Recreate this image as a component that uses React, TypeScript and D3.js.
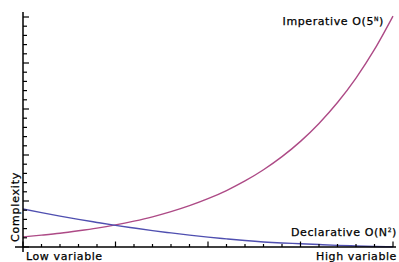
import React, { useEffect, useRef } from 'react';
import * as d3 from 'd3';

// input size steps (0 = low variable, 20 = high variable)
const steps = d3.range(0, 21);
const imperative = [1.1, 1.29, 1.5, 1.76, 2.05, 2.4, 2.81, 3.28, 3.84, 4.49, 5.25, 6.14, 7.18, 8.4, 9.82, 11.48, 13.43, 15.7, 18.36, 21.47, 25.1];
const declarative = [4.13, 3.74, 3.36, 3.0, 2.67, 2.35, 2.06, 1.78, 1.53, 1.29, 1.07, 0.88, 0.7, 0.55, 0.44, 0.36, 0.27, 0.18, 0.11, 0.05, 0.02];
const xTicks = d3.range(0, 21);
const yTicks = d3.range(0, 26);

const App = () => {
    const ref = useRef<SVGSVGElement>(null);

    useEffect(() => {
        const svg = d3.select(ref.current);
        svg.selectAll('*').remove();

        const x = d3.scaleLinear().domain([0, 20]).range([23, 393]);
        const y = d3.scaleLinear().domain([0, 25]).range([247, 17]);
        const font = '"DejaVu Sans", Verdana, sans-serif';

        const plot = svg.append('g');
        plot.append('clipPath').attr('id', 'plot-clip')
            .append('rect').attr('x', 23).attr('y', 10).attr('width', 376).attr('height', 238);

        const line = d3.line<number>()
            .x((d, i) => x(steps[i]))
            .y((d) => y(d))
            .curve(d3.curveMonotoneX);

        // curves
        plot.append('path').datum(imperative)
            .attr('d', line)
            .attr('fill', 'none')
            .attr('stroke', '#ad4a86')
            .attr('stroke-width', 1.4)
            .attr('clip-path', 'url(#plot-clip)');
        plot.append('path').datum(declarative)
            .attr('d', line)
            .attr('fill', 'none')
            .attr('stroke', '#4f4fb0')
            .attr('stroke-width', 1.4)
            .attr('clip-path', 'url(#plot-clip)');

        // axes
        const axes = svg.append('g').attr('stroke', '#000');
        axes.append('line').attr('x1', 23).attr('x2', 23).attr('y1', 12).attr('y2', 252).attr('stroke-width', 1.5);
        axes.append('line').attr('x1', 15).attr('x2', 396).attr('y1', 247).attr('y2', 247).attr('stroke-width', 1.5);

        axes.selectAll('.yt').data(yTicks).enter()
            .append('line')
            .attr('x1', 23)
            .attr('x2', (d) => (d % 5 === 0 ? 29 : 27))
            .attr('y1', (d) => y(d))
            .attr('y2', (d) => y(d))
            .attr('stroke-width', 1.2);
        axes.selectAll('.xt').data(xTicks).enter()
            .append('line')
            .attr('x1', (d) => x(d))
            .attr('x2', (d) => x(d))
            .attr('y1', 247)
            .attr('y2', (d) => (d % 5 === 0 ? 241.5 : 244))
            .attr('stroke-width', 1.2);

        // labels
        const label = (tx: number, ty: number, anchor: string) => svg.append('text')
            .attr('x', tx).attr('y', ty)
            .attr('text-anchor', anchor)
            .attr('font-family', font)
            .attr('font-size', 11)
            .attr('letter-spacing', 0.6)
            .attr('fill', '#000')
            .attr('stroke', '#000')
            .attr('stroke-width', 0.25);

        label(26, 259.5, 'start').text('Low variable');
        label(397, 259.5, 'end').text('High variable');

        const imp = label(384, 25, 'end');
        imp.append('tspan').text('Imperative O(5');
        imp.append('tspan').attr('font-size', 6).attr('dy', -4).text('N');
        imp.append('tspan').attr('dy', 4).text(')');

        const dec = label(397, 236, 'end');
        dec.append('tspan').text('Declarative O(N');
        dec.append('tspan').attr('font-size', 6).attr('dy', -4).text('2');
        dec.append('tspan').attr('dy', 4).text(')');

        svg.append('text')
            .attr('transform', 'translate(18.5,242) rotate(-90)')
            .attr('font-family', font)
            .attr('font-size', 11)
            .attr('letter-spacing', 0.8)
            .attr('fill', '#000')
            .attr('stroke', '#000')
            .attr('stroke-width', 0.25)
            .text('Complexity');
    }, []);

    return (
        <svg ref={ref} width={399} height={262} style={{ position: 'absolute', left: 0, top: 0 }} />
    );
};

export default App;
